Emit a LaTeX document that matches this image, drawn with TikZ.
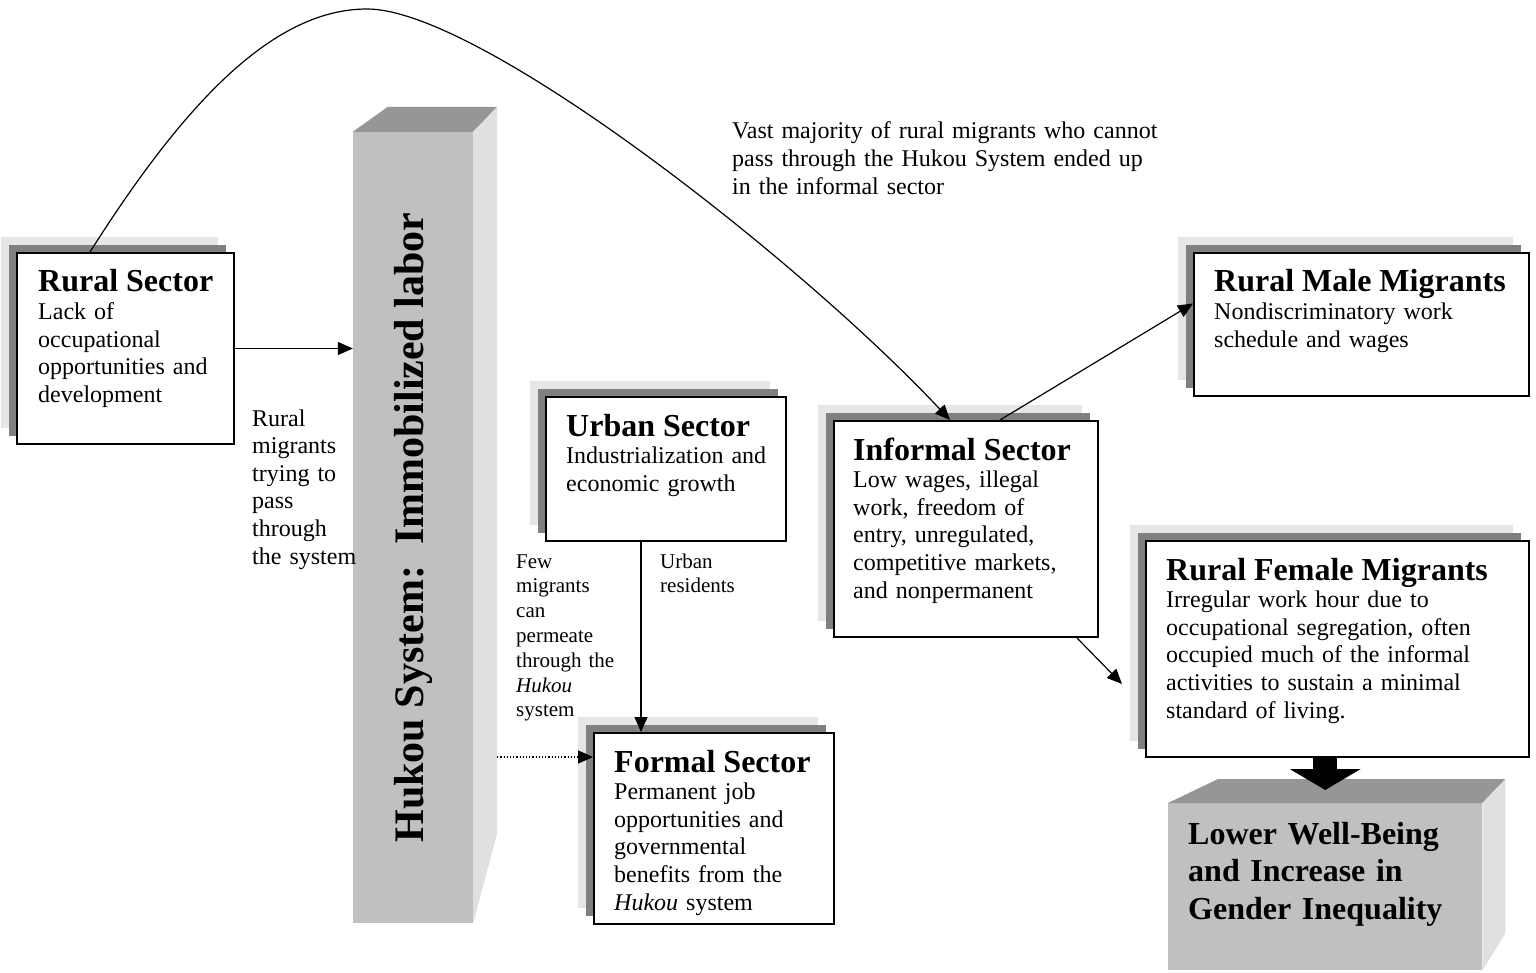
\documentclass[tikz,border=0pt]{standalone}
\usepackage{fontspec}
\setmainfont{Liberation Serif}
\usetikzlibrary{arrows.meta,shadows}
\definecolor{shadedark}{HTML}{808080}
\definecolor{shadelight}{HTML}{E6E6E6}
\definecolor{blockfront}{HTML}{C0C0C0}
\definecolor{blocktop}{HTML}{969696}
\definecolor{blockside}{HTML}{E0E0E0}
\newcommand{\boxtitle}[1]{{\fontsize{32}{28}\selectfont\bfseries #1}}

\begin{document}
\begin{tikzpicture}[x=1pt,y=-1pt,
  sectorbox/.style={draw,line width=2pt,fill=white,anchor=north west,inner sep=0pt,
    general shadow={shadow xshift=-16pt,shadow yshift=16pt,fill=shadelight},
    general shadow={shadow xshift=-8pt,shadow yshift=8pt,fill=shadedark}},
  block/.style={fill=blockfront,inner sep=0pt},
  boxtext/.style={anchor=base west,inner sep=0pt,align=left,font=\fontsize{24}{27.6}\selectfont},
  smallnote/.style={anchor=base west,inner sep=0pt,align=left,font=\fontsize{21}{24.8}\selectfont},
  link/.style={line width=1.2pt,-{Triangle[length=15pt,width=13pt]}},
  bigarrow/.style={line width=24pt,-{Triangle[length=21pt,width=70pt]}}]
\useasboundingbox (0,0) rectangle (1536,973);

\node[block,minimum width=120,minimum height=791] (hukou) at (413,527.5) {};
\fill[blocktop] (hukou.north west) -- (hukou.north east) -- ++(24,-25) -- ([xshift=35pt,yshift=25pt]hukou.north west) -- cycle;
\fill[blockside] (hukou.north east) -- ++(24,-25) -- ([xshift=24pt,yshift=90pt]hukou.south east) -- (hukou.south east) -- cycle;
\node[rotate=90,font=\fontsize{42}{48}\selectfont\bfseries] (hukoulabel) at (hukou.center) {Hukou System:\ \ Immobilized labor};
\coordinate (hukouside) at ([xshift=24pt]hukou.east);

\node[block,minimum width=314,minimum height=167,anchor=north west] (lower) at (1168,803) {};
\fill[blocktop] (lower.north west) -- (lower.north east) -- ++(23,-24) -- ([xshift=50pt,yshift=24pt]lower.north west) -- cycle;
\fill[blockside] (lower.north east) -- ++(23,-24) -- ([xshift=23pt,yshift=37pt]lower.south east) -- (lower.south east) -- cycle;

\node[sectorbox,minimum width=217,minimum height=191] (rural) at (16,252) {};
\node[sectorbox,minimum width=240,minimum height=144] (urban) at (545,396) {};
\node[sectorbox,minimum width=240,minimum height=191] (formal) at (593,732) {};
\node[sectorbox,minimum width=264,minimum height=216] (informal) at (833,420) {};
\node[sectorbox,minimum width=335,minimum height=143] (male) at (1193,252) {};
\node[sectorbox,minimum width=383,minimum height=216] (female) at (1145,540) {};

\coordinate (formalentry) at ([yshift=-25pt]formal.north west);
\coordinate (femaleentry) at ([xshift=-23pt,yshift=-35pt]female.west);

\draw[link] (rural.east) -- (rural.east -| hukou.west);
\draw[link] ([xshift=74pt]rural.north west) .. controls (180,110) and (270,9) .. (367,9) .. controls (480,9) and (800,260) .. ([xshift=117pt]informal.north west);
\draw[link] ([xshift=96pt]urban.south west) -- ([xshift=48pt]formal.north west);
\draw[link,dotted] (formalentry -| hukouside) -- (formalentry);
\draw[link] ([xshift=167pt]informal.north west) -- ([yshift=21pt]male.west);
\draw[link] ([xshift=-22pt]informal.south east) -- (femaleentry);
\draw[bigarrow] (female.south -| lower.north) -- ([yshift=13pt]lower.north);

\node[boxtext,text width=200] (ruraltext) at ([xshift=22pt,yshift=-40pt]rural.north west) {\boxtitle{Rural Sector}\\Lack of\\occupational\\opportunities and\\development};
\node[boxtext,text width=225] (urbantext) at ([xshift=21pt,yshift=-40pt]urban.north west) {\boxtitle{Urban Sector}\\Industrialization and\\economic growth};
\node[boxtext,text width=225] (formaltext) at ([xshift=21pt,yshift=-40pt]formal.north west) {\boxtitle{Formal Sector}\\Permanent job\\opportunities and\\governmental\\benefits from the\\\textit{Hukou} system};
\node[boxtext,text width=250] (informaltext) at ([xshift=20pt,yshift=-40pt]informal.north west) {\boxtitle{Informal Sector}\\Low wages, illegal\\work, freedom of\\entry, unregulated,\\competitive markets,\\and nonpermanent};
\node[boxtext,text width=320] (maletext) at ([xshift=21pt,yshift=-40pt]male.north west) {\boxtitle{Rural Male Migrants}\\Nondiscriminatory work\\schedule and wages};
\node[boxtext,text width=370] (femaletext) at ([xshift=21pt,yshift=-40pt]female.north west) {\boxtitle{Rural Female Migrants}\\Irregular work hour due to\\occupational segregation, often\\occupied much of the informal\\activities to sustain a minimal\\standard of living.};
\node[boxtext,text width=300,font=\fontsize{32}{37.5}\selectfont\bfseries] (lowertext) at ([xshift=20pt,yshift=-41pt]lower.north west) {Lower Well-Being\\and Increase in\\Gender Inequality};

\node[boxtext,text width=120] (passnote) at (252,426) {Rural\\migrants\\trying to\\pass\\through\\the system};
\node[boxtext,text width=440] (informalnote) at (732,139) {Vast majority of rural migrants who cannot\\pass through the Hukou System ended up\\in the informal sector};
\node[smallnote,text width=110] (fewnote) at (516,568) {Few\\migrants\\can\\permeate\\through the\\\textit{Hukou}\\system};
\node[smallnote,text width=100] (residentnote) at (660,568) {Urban\\residents};
\end{tikzpicture}
\end{document}
